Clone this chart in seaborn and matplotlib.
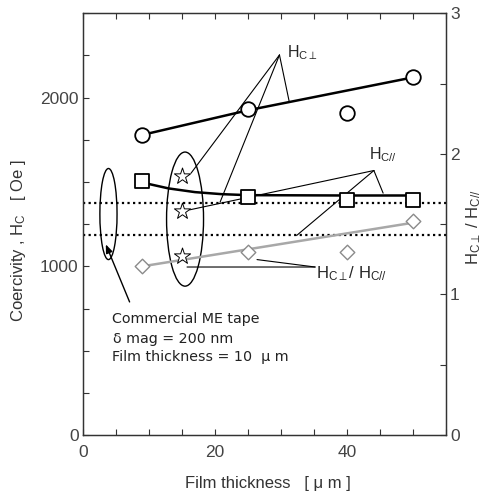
import matplotlib
matplotlib.use("Agg")
import matplotlib.pyplot as plt
import seaborn as sns
import pandas as pd
from matplotlib.patches import Ellipse

# ---------------- data ----------------
thickness = [9, 25, 40, 50]
hc_perp = [1779, 1933, 1907, 2120]          # Oe, circles
hc_para = [1503, 1414, 1395, 1395]          # Oe, squares
ratio = [1.20, 1.30, 1.30, 1.52]            # Hc_perp / Hc_para, diamonds

perp_trend_x = [9, 25, 50]
perp_trend_y = [1779, 1925, 2120]
para_trend_x = [9, 13, 17, 21, 25, 40, 50]
para_trend_y = [1497, 1462, 1440, 1428, 1422, 1420, 1420]
ratio_trend_x = [9, 50]
ratio_trend_y = [1.20, 1.51]

commercial_x = [15, 15]
commercial_hc = [1534, 1331]                # stars: Hc_perp, Hc_para
commercial_ratio = [1.27]                   # star on ratio axis
ref_levels = [1374, 1187]                   # dotted reference levels

x_ticks = [0, 5, 10, 15, 20, 25, 30, 35, 40, 45, 50, 55]
x_labels = ["0", "", "", "", "20", "", "", "", "40", "", "", ""]
y_ticks = [0, 250, 500, 750, 1000, 1250, 1500, 1750, 2000, 2250, 2500]
y_labels = ["0", "", "", "", "1000", "", "", "", "2000", "", ""]
y2_ticks = [0, 0.5, 1, 1.5, 2, 2.5, 3]
y2_labels = ["0", "", "1", "", "2", "", "3"]

# ---------------- style ----------------
sns.set_style("ticks")
plt.rcParams["font.family"] = ["Liberation Sans", "DejaVu Sans"]
plt.rcParams["mathtext.fontset"] = "custom"
plt.rcParams["mathtext.rm"] = "Liberation Sans"
plt.rcParams["mathtext.it"] = "Liberation Sans"
plt.rcParams["mathtext.sf"] = "Liberation Sans"
ANN_FONT = ["DejaVu Sans"]
TICK_COL = "#444444"

fig = plt.figure(figsize=(4.82, 4.93), dpi=100)
ax = fig.add_axes([0.1716, 0.1176, 0.7534, 0.8554])
ax2 = ax.twinx()

main = pd.DataFrame({"x": thickness, "perp": hc_perp, "para": hc_para, "ratio": ratio})

# reference dotted lines
for lvl in ref_levels:
    ax.axhline(lvl, color="black", ls=(0, (1, 1.5)), lw=1.6, zorder=1)

# trend lines
sns.lineplot(x=perp_trend_x, y=perp_trend_y, ax=ax, color="black", lw=1.8, zorder=2)
sns.lineplot(x=para_trend_x, y=para_trend_y, ax=ax, color="black", lw=1.8, zorder=2)
sns.lineplot(x=ratio_trend_x, y=ratio_trend_y, ax=ax2, color="#a8a8a8", lw=1.8, zorder=2)

# markers
sns.scatterplot(data=main, x="x", y="perp", ax=ax, marker="o", s=110, color="white",
                edgecolor="black", linewidth=1.3, zorder=5)
sns.scatterplot(data=main, x="x", y="para", ax=ax, marker="s", s=110, color="white",
                edgecolor="black", linewidth=1.3, zorder=5)
sns.scatterplot(data=main, x="x", y="ratio", ax=ax2, marker="D", s=55, color="white",
                edgecolor="#8a8a8a", linewidth=1.0, zorder=5)
sns.scatterplot(x=commercial_x, y=commercial_hc, ax=ax, marker="*", s=150, color="white",
                edgecolor="black", linewidth=0.7, zorder=5)
sns.scatterplot(x=commercial_x[:1], y=commercial_ratio, ax=ax2, marker="*", s=150, color="white",
                edgecolor="black", linewidth=0.7, zorder=5)

# ellipses
ax.add_patch(Ellipse((3.9, 1310), 2.6, 540, fill=False, ec="black", lw=1.0, zorder=3))
ax.add_patch(Ellipse((15.5, 1280), 5.6, 795, fill=False, ec="black", lw=1.0, zorder=3))

# leader lines
def leader(apex, tgt):
    ax.annotate("", xy=tgt, xytext=apex,
                arrowprops=dict(arrowstyle="-", lw=0.8, color="black", shrinkA=0, shrinkB=0))

perp_apex = (29.8, 2253)
for t in [(16.4, 1552), (20.8, 1380), (31.3, 1972)]:
    leader(perp_apex, t)
para_apex = (44.1, 1568)
for t in [(16.2, 1335), (32.4, 1183), (45.5, 1434)]:
    leader(para_apex, t)
ratio_apex = (35.2, 996)
for t in [(15.8, 996), (26.4, 1040)]:
    leader(ratio_apex, t)

ax.annotate("", xy=(3.5, 1130), xytext=(7.1, 789),
            arrowprops=dict(arrowstyle="-|>,head_length=0.5,head_width=0.2", lw=1.0,
                            color="black", shrinkA=0, shrinkB=0))

# annotation texts
ax.text(31.0, 2265, r"H$_\mathrm{C\perp}$", fontsize=11.5, va="center", ha="left")
ax.text(43.3, 1663, r"H$_\mathrm{C//}$", fontsize=11.5, va="center", ha="left")
ax.text(35.4, 955, r"H$_\mathrm{C\perp}$/ H$_\mathrm{C//}$", fontsize=12, va="center", ha="left")
ax.text(4.4, 685, "Commercial ME tape", fontsize=10.3, family=ANN_FONT, va="center", ha="left",
        color="#222222")
ax.text(4.6, 572, "δ mag = 200 nm", fontsize=10.3, family=ANN_FONT, va="center", ha="left",
        color="#222222")
ax.text(4.4, 460, "Film thickness = 10  μ m", fontsize=10.3, family=ANN_FONT, va="center",
        ha="left", color="#222222")

# axes
ax.set_xlim(0, 55)
ax.set_ylim(0, 2500)
ax2.set_ylim(0, 3)
ax.set_xticks(x_ticks)
ax.set_xticklabels(x_labels)
ax.set_yticks(y_ticks)
ax.set_yticklabels(y_labels)
ax2.set_yticks(y2_ticks)
ax2.set_yticklabels(y2_labels)

ax.tick_params(direction="in", top=True, right=False, length=4, width=0.8,
               labelsize=12.5, colors="#333333", labelcolor=TICK_COL)
ax.tick_params(axis="y", pad=3)
ax.tick_params(axis="x", pad=7)
ax2.tick_params(direction="in", length=4, width=0.8, labelsize=12.5, colors="#333333",
                labelcolor=TICK_COL, pad=3)
for a in (ax, ax2):
    for s in a.spines.values():
        s.set_color("#333333")
        s.set_linewidth(0.9)

ax.set_xlabel("Film thickness   [ μ m ]", fontsize=12, color="#333333")
ax.set_ylabel(r"Coercivity , H$_\mathrm{C}$   [ Oe ]", fontsize=12, color="#333333")
ax2.set_ylabel(r"H$_\mathrm{C\perp}$ / H$_\mathrm{C//}$", fontsize=12, color="#333333")
ax.xaxis.set_label_coords(0.509, -0.098)
ax.yaxis.set_label_coords(-0.152, 0.462)
ax2.yaxis.set_label_coords(1.05, 0.494)

fig.savefig("out.png", dpi=100)
